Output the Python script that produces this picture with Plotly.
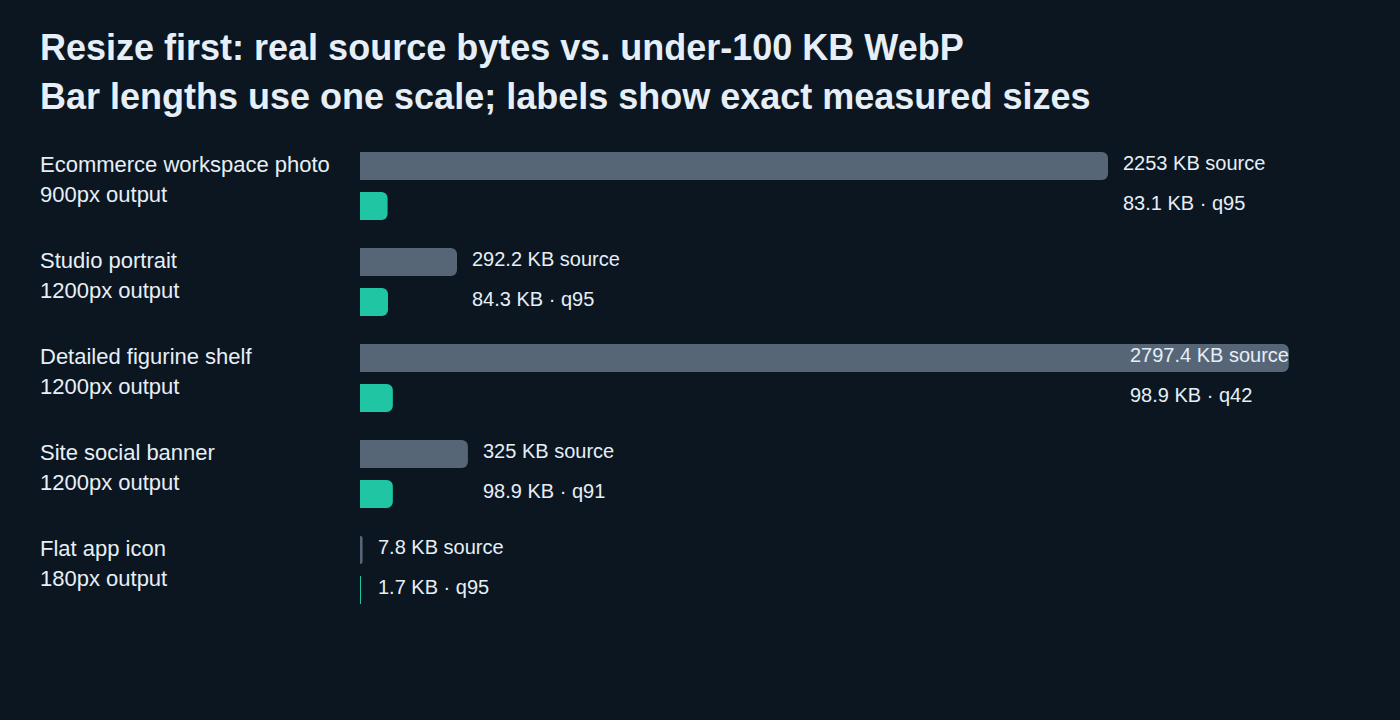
import plotly.graph_objects as go

names = ["Ecommerce workspace photo", "Studio portrait", "Detailed figurine shelf",
         "Site social banner", "Flat app icon"]
outputs = ["900px output", "1200px output", "1200px output", "1200px output", "180px output"]
source_kb = [2253, 292.2, 2797.4, 325, 7.8]
webp_kb = [83.1, 84.3, 98.9, 98.9, 1.7]
quality = ["q95", "q95", "q42", "q91", "q95"]
source_labels = ["2253 KB source", "292.2 KB source", "2797.4 KB source", "325 KB source", "7.8 KB source"]
webp_labels = ["83.1 KB · q95", "84.3 KB · q95", "98.9 KB · q42", "98.9 KB · q91", "1.7 KB · q95"]

BG = "#0b1620"
GRAY = "#566677"
TEAL = "#20c6a3"
TXT = "#e6eff7"
FONT = "Liberation Sans, Arial, sans-serif"

W, H = 1400, 720
L, R = 360, 44
XMAX = 3000
LABEL_CAP = 2274  # labels don't run past this point

first_center = 186
step = 96
off = 20

src_y = [first_center + step * i - off for i in range(len(names))]
wbp_y = [first_center + step * i + off for i in range(len(names))]

fig = go.Figure()
fig.add_trace(go.Bar(x=source_kb, y=src_y, orientation="h", width=28,
                     marker=dict(color=GRAY, cornerradius=6, line=dict(width=0)),
                     hoverinfo="skip"))
fig.add_trace(go.Bar(x=webp_kb, y=wbp_y, orientation="h", width=28,
                     marker=dict(color=TEAL, cornerradius=6, line=dict(width=0)),
                     hoverinfo="skip"))

ann = []
px0 = (40 - L) / (W - L - R)
for i in range(len(names)):
    lx = min(max(source_kb[i], webp_kb[i]), LABEL_CAP)
    ann.append(dict(x=lx, y=src_y[i] - 3, xref="x", yref="y", text=source_labels[i],
                    xanchor="left", yanchor="middle", xshift=13, showarrow=False,
                    font=dict(size=20, color=TXT, family=FONT)))
    ann.append(dict(x=lx, y=wbp_y[i] - 3, xref="x", yref="y", text=webp_labels[i],
                    xanchor="left", yanchor="middle", xshift=13, showarrow=False,
                    font=dict(size=20, color=TXT, family=FONT)))
    ann.append(dict(x=px0, y=src_y[i] - 2, xref="paper", yref="y",
                    text=names[i], xanchor="left", yanchor="middle", showarrow=False,
                    xshift=-2, font=dict(size=22, color=TXT, family=FONT)))
    ann.append(dict(x=px0, y=src_y[i] + 28, xref="paper", yref="y",
                    text=outputs[i], xanchor="left", yanchor="middle", showarrow=False,
                    xshift=-2, font=dict(size=22, color=TXT, family=FONT)))

titles = ["Resize first: real source bytes vs. under-100 KB WebP",
          "Bar lengths use one scale; labels show exact measured sizes"]
for j, t in enumerate(titles):
    ann.append(dict(x=px0, y=47 + 49 * j, xref="paper", yref="y",
                    text="<b>" + t + "</b>", xanchor="left", yanchor="middle", showarrow=False,
                    xshift=-2, font=dict(size=36, color=TXT, family=FONT)))

fig.update_layout(
    width=W, height=H,
    paper_bgcolor=BG, plot_bgcolor=BG,
    margin=dict(l=L, r=R, t=0, b=0),
    showlegend=False, barmode="overlay",
    xaxis=dict(range=[0, XMAX], visible=False, fixedrange=True),
    yaxis=dict(range=[H, 0], visible=False, fixedrange=True),
    annotations=ann,
)
fig.write_html("out.html")
